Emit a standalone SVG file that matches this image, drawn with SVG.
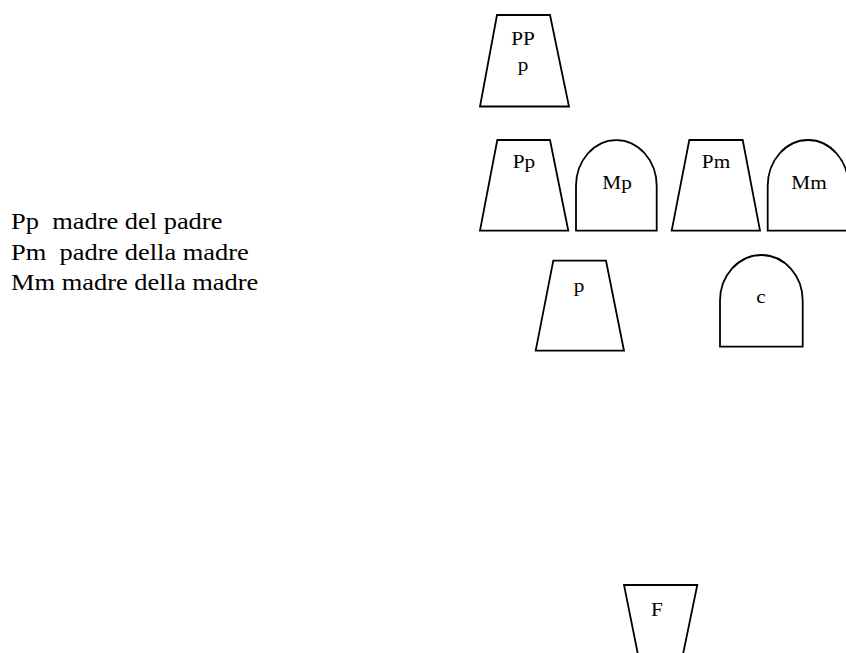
<svg xmlns="http://www.w3.org/2000/svg" width="846" height="653" viewBox="0 0 846 653">
<style>
.s{fill:#fff;stroke:#000;stroke-width:1.8;stroke-linejoin:miter}
.t{font-family:"Liberation Serif","Times New Roman",serif;font-size:18.5px;fill:#000;text-anchor:middle}
.l{font-family:"Liberation Serif","Times New Roman",serif;font-size:23px;fill:#000}
</style>
<rect width="846" height="653" fill="#fff"/>
<g id="legend">
<text class="l" transform="translate(11,229) scale(1.15,1)" xml:space="preserve">Pp  madre del padre</text>
<text class="l" transform="translate(11,259.5) scale(1.15,1)" xml:space="preserve">Pm  padre della madre</text>
<text class="l" transform="translate(11,290) scale(1.15,1)">Mm madre della madre</text>
</g>
<g id="node-PPp">
<polygon class="s" points="497,15 550,15 569,106.5 480,106.5"/>
<text class="t" transform="translate(523,45) scale(1.15,1)">PP</text>
<text class="t" transform="translate(523,70.5) scale(1.15,1)">p</text>
</g>
<g id="node-Pp">
<polygon class="s" points="497.3,140 550,140 568.3,230.7 480,230.7"/>
<text class="t" transform="translate(524,168) scale(1.15,1)">Pp</text>
</g>
<g id="node-Mp">
<path class="s" d="M576,230.7 V186 A40.35,46 0 0 1 656.7,186 V230.7 Z"/>
<text class="t" transform="translate(617,189) scale(1.15,1)">Mp</text>
</g>
<g id="node-Pm">
<polygon class="s" points="689.3,140 742.7,140 760,230.7 671.7,230.7"/>
<text class="t" transform="translate(716,168) scale(1.15,1)">Pm</text>
</g>
<g id="node-Mm">
<path class="s" d="M767.7,230.7 V186 A40.35,46 0 0 1 848.4,186 V230.7 Z"/>
<text class="t" transform="translate(809,189) scale(1.15,1)">Mm</text>
</g>
<g id="node-p">
<polygon class="s" points="553.3,260.7 606,260.7 624,350.7 535.7,350.7"/>
<text class="t" transform="translate(579,291.5) scale(1.15,1)">p</text>
</g>
<g id="node-c">
<path class="s" d="M720,346.7 V301 A41.35,46 0 0 1 802.7,301 V346.7 Z"/>
<text class="t" transform="translate(761,303) scale(1.15,1)">c</text>
</g>
<g id="node-F">
<polygon class="s" points="624,585 697.3,585 677.7,680 643.1,680"/>
<text class="t" transform="translate(657,615.5) scale(1.15,1)">F</text>
</g>
<g id="connectors"/>
</svg>
